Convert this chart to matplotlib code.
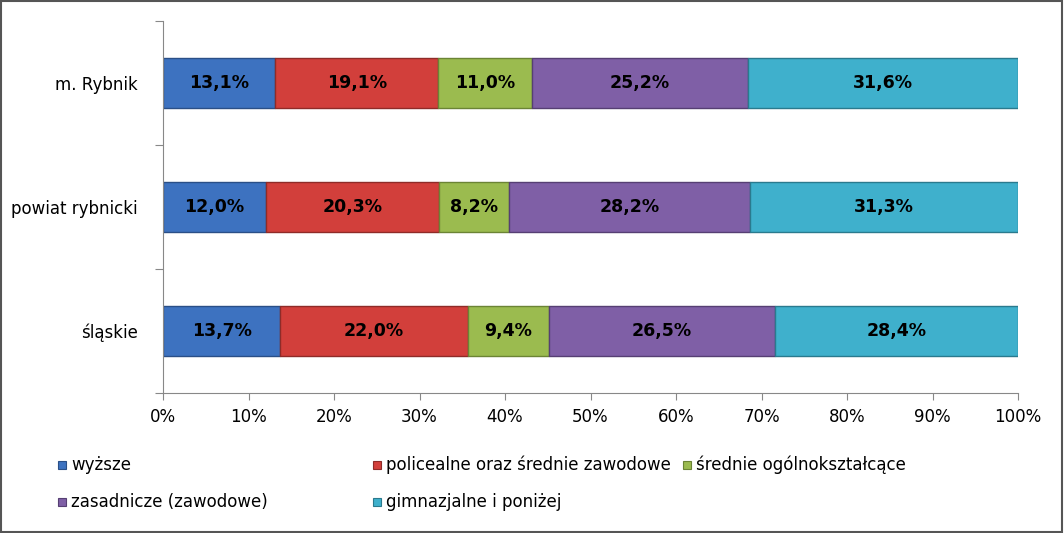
import matplotlib
matplotlib.use("Agg")
import matplotlib.pyplot as plt
from matplotlib.patches import Rectangle

categories = ["śląskie", "powiat rybnicki", "m. Rybnik"]
series_names = ["wyższe", "policealne oraz średnie zawodowe", "średnie ogólnokształcące",
                "zasadnicze (zawodowe)", "gimnazjalne i poniżej"]
values = [
    [13.7, 12.0, 13.1],
    [22.0, 20.3, 19.1],
    [9.4, 8.2, 11.0],
    [26.5, 28.2, 25.2],
    [28.4, 31.3, 31.6],
]
colors = ["#3d72c0", "#d23f3b", "#9bbb4f", "#7f5fa6", "#3fb0cc"]
edges = ["#2a4f87", "#8f2b28", "#6b8435", "#563f73", "#2a7a8e"]

fig = plt.figure(figsize=(10.64, 5.33), dpi=100)
ax = fig.add_axes([163/1064, 1-393/533, 855/1064, 372/533])
y = list(range(len(categories)))
left = [0.0]*len(categories)
for vals, c, e in zip(values, colors, edges):
    ax.barh(y, vals, left=left, height=0.4, color=c, edgecolor=e, linewidth=1)
    for i, v in enumerate(vals):
        ax.text(left[i]+v/2, y[i], f"{v:.1f}%".replace(".", ","), ha="center", va="center",
                fontsize=12.5, fontweight="bold", color="black")
    left = [l+v for l, v in zip(left, vals)]

ax.set_xlim(0, 100)
ax.set_ylim(-0.5, 2.5)
ax.set_xticks(range(0, 101, 10))
ax.set_xticklabels([f"{t}%" for t in range(0, 101, 10)], fontsize=12)
ax.set_yticks([-0.5, 0.5, 1.5, 2.5])
ax.set_yticklabels([])
ax.set_yticks(y, minor=True)
ax.set_yticklabels(categories, minor=True, fontsize=12)
ax.tick_params(axis="y", which="minor", length=0, pad=18)
ax.tick_params(axis="y", which="major", length=6, color="#888888")
ax.tick_params(axis="x", length=5, color="#888888", pad=6)
for s in ["top", "right"]:
    ax.spines[s].set_visible(False)
for s in ["left", "bottom"]:
    ax.spines[s].set_color("#888888")

# legend
pos = [(68, 465), (383, 465), (693, 465), (68, 502), (383, 502)]
for (px, py), name, c, e in zip(pos, series_names, colors, edges):
    fig.patches.append(Rectangle(((px-10)/1064, 1-(py+4)/533), 8/1064, 8/533,
                                 transform=fig.transFigure, facecolor=c, edgecolor=e, lw=0.8))
    fig.text((px+3)/1064, 1-py/533, name, fontsize=12, va="center", ha="left")

fig.patches.append(Rectangle((0.001, 0.002), 0.997, 0.996, transform=fig.transFigure,
                             fill=False, edgecolor="#555555", lw=1.5))
fig.savefig("out.png", dpi=100)
